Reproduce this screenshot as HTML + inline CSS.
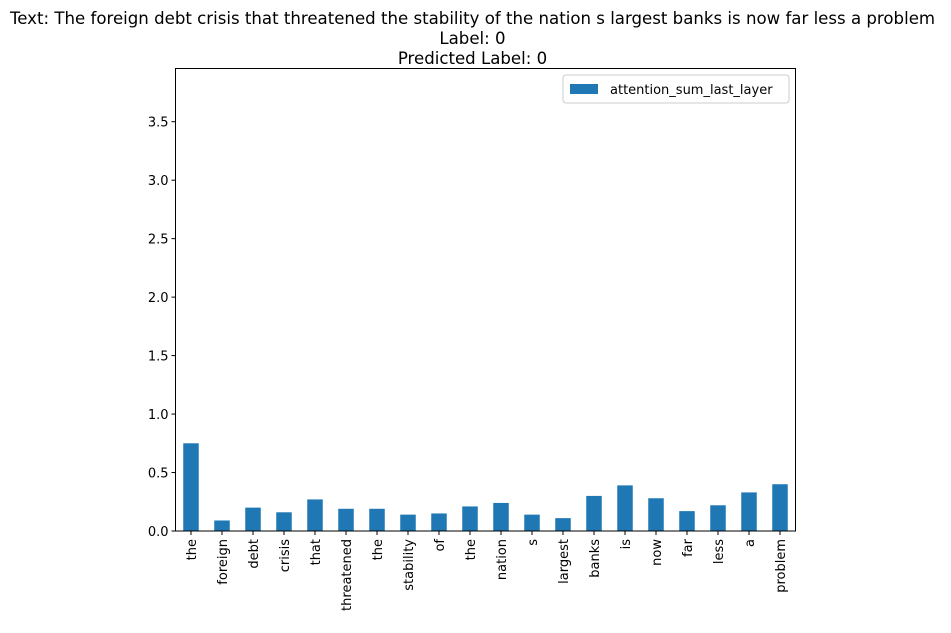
<!DOCTYPE html>
<html><head><meta charset="utf-8"><style>
body{margin:0;background:#fff;}
svg text{font-family:"DejaVu Sans","Liberation Sans",sans-serif;fill:#000;}
</style></head><body>
<svg id="chart" width="951" height="628" xmlns="http://www.w3.org/2000/svg">
<g>
<text x="472.5" y="24" font-size="16.6" text-anchor="middle">Text: The foreign debt crisis that threatened the stability of the nation s largest banks is now far less a problem</text>
<text x="472.5" y="44" font-size="16.6" text-anchor="middle">Label: 0</text>
<text x="472.5" y="64" font-size="16.6" text-anchor="middle">Predicted Label: 0</text>
</g>
<g id="bars"></g>
<g id="yaxis"></g>
<g id="xaxis"></g>
<rect x="175.5" y="68.5" width="620" height="462.5" fill="none" stroke="#000" stroke-width="1"/>
<g>
<rect x="563" y="75" width="226" height="28" fill="#fff" stroke="#ccc" rx="3"/>
<rect x="570" y="84" width="28" height="10" fill="#1f77b4"/>
<text x="610" y="94" font-size="13">attention_sum_last_layer</text>
</g>
</svg>
<script>
const categories=["the","foreign","debt","crisis","that","threatened","the","stability","of","the","nation","s","largest","banks","is","now","far","less","a","problem"];
const values=[0.75,0.09,0.20,0.16,0.27,0.19,0.19,0.14,0.15,0.21,0.24,0.14,0.11,0.30,0.39,0.28,0.17,0.22,0.33,0.40];
const yTicks=[0,0.5,1,1.5,2,2.5,3,3.5];
const yTickLabels=["0.0","0.5","1.0","1.5","2.0","2.5","3.0","3.5"];
const NS="http://www.w3.org/2000/svg";
const L=175.5,R=795.5,B=531,T=68.5,yMax=3.955;
const x=i=>L+(i+0.5)*(R-L)/categories.length;
const y=v=>B-(v/yMax)*(B-T);
const bw=(R-L)/categories.length*0.5;
function mk(t,a,p){const e=document.createElementNS(NS,t);for(const k in a)e.setAttribute(k,a[k]);p.appendChild(e);return e;}
const gb=document.getElementById('bars'),gy=document.getElementById('yaxis'),gx=document.getElementById('xaxis');
values.forEach((v,i)=>{
 const r=mk('rect',{x:x(i)-bw/2,y:y(v),width:bw,height:B-y(v),fill:'#1f77b4'},gb);
 
 
});
yTicks.forEach((t,i)=>{
 const l=mk('line',{x1:L-4,x2:L,y1:y(t),y2:y(t),stroke:'#000'},gy);
 
 
 const tx=mk('text',{x:L-7,y:y(t)+5,'font-size':13,'text-anchor':'end'},gy);
 tx.textContent=yTickLabels[i];
 
 
});
categories.forEach((c,i)=>{
 const l=mk('line',{x1:x(i),x2:x(i),y1:B,y2:B+4,stroke:'#000'},gx);
 
 
 const tx=mk('text',{x:0,y:0,'font-size':13,'text-anchor':'end',transform:`translate(${x(i)+5},${B+8}) rotate(-90)`},gx);
 tx.textContent=c;
 
 
});
</script>
</body></html>
